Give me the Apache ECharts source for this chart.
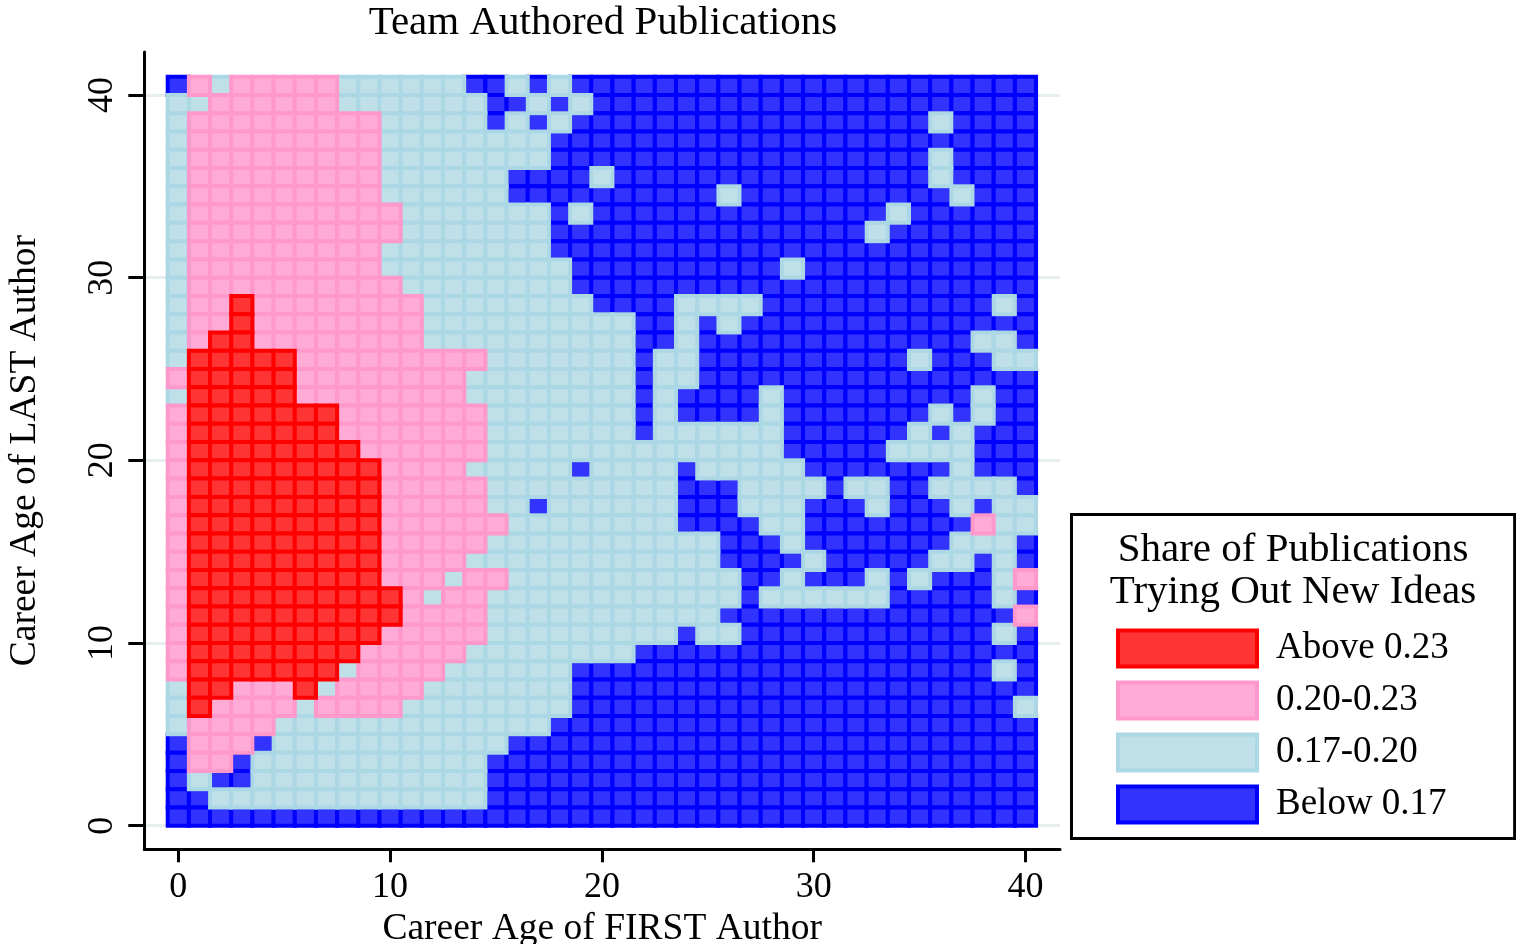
<!DOCTYPE html>
<html>
<head>
<meta charset="utf-8">
<script src="https://cdn.jsdelivr.net/npm/echarts@6/dist/echarts.min.js"></script>
<style>
html,body{margin:0;padding:0;background:#ffffff;}
#c{width:1516px;height:944px;}
</style>
</head>
<body>
<div id="c"></div>
<script>
// Career age of FIRST author (columns) and LAST author (rows, listed top to bottom)
const firstAuthorAges = [0,1,2,3,4,5,6,7,8,9,10,11,12,13,14,15,16,17,18,19,20,21,22,23,24,25,26,27,28,29,30,31,32,33,34,35,36,37,38,39,40];
const lastAuthorAges = [40,39,38,37,36,35,34,33,32,31,30,29,28,27,26,25,24,23,22,21,20,19,18,17,16,15,14,13,12,11,10,9,8,7,6,5,4,3,2,1,0];
const xTickValues = [0,10,20,30,40];
const yTickValues = [0,10,20,30,40];

// Share classes: 0 = Below 0.17, 1 = 0.17-0.20, 2 = 0.20-0.23, 3 = Above 0.23
const classNames = ['Below 0.17','0.17-0.20','0.20-0.23','Above 0.23'];
const classFill = ['#3333ff','#bfe0e8','#ffabd5','#ff3434'];
const classBorder = ['#0000ff','#acd7e4','#ff99cb','#ff0000'];
const legendOrder = ['Above 0.23','0.20-0.23','0.17-0.20','Below 0.17'];

// One string per LAST-author age (40 at top), one digit per FIRST-author age 0..40
const shareClassRows = [
  '0212222211 1111001010 0000000000 0000000000 0', // 40
  '1122222211 1111100101 0000000000 0000000000 0', // 39
  '1222222222 1111101010 0000000000 0000001000 0', // 38
  '1222222222 1111111100 0000000000 0000000000 0', // 37
  '1222222222 1111111100 0000000000 0000001000 0', // 36
  '1222222222 1111110000 1000000000 0000001000 0', // 35
  '1222222222 1111110000 0000001000 0000000100 0', // 34
  '1222222222 2111111101 0000000000 0000100000 0', // 33
  '1222222222 2111111100 0000000000 0001000000 0', // 32
  '1222222222 1111111100 0000000000 0000000000 0', // 31
  '1222222222 1111111110 0000000001 0000000000 0', // 30
  '1222222222 2111111110 0000000000 0000000000 0', // 29
  '1223222222 2211111111 0000111100 0000000001 0', // 28
  '1223222222 2211111111 1100101000 0000000000 0', // 27
  '1233222222 2211111111 1100100000 0000000011 0', // 26
  '1333332222 2222211111 1101100000 0000010001 1', // 25
  '2333332222 2222111111 1101100000 0000000000 0', // 24
  '1333332222 2222111111 1101000010 0000000010 0', // 23
  '2333333322 2222211111 1101000010 0000001010 0', // 22
  '2333333322 2222211111 1101111110 0000010100 0', // 21
  '2333333332 2222211111 1111111110 0000111100 0', // 20
  '2333333333 2222111110 1111011111 0000000100 0', // 19
  '2333333333 2222211111 1111000111 1011001111 0', // 18
  '2333333333 2222211011 1111000111 0001000101 1', // 17
  '2333333333 2222221111 1111000011 0000000021 1', // 16
  '2333333333 2222211111 1111110001 0000000111 0', // 15
  '2333333333 2222111111 1111110000 1000001101 0', // 14
  '2333333333 2221221111 1111111001 0001010001 2', // 13
  '2333333333 3212211111 1111111011 1111000001 0', // 12
  '2333333333 3222211111 1111110000 0000000000 2', // 11
  '2333333333 2222211111 1111011000 0000000001 0', // 10
  '2333333332 2222111111 1100000000 0000000000 0', // 9
  '2333333312 2221111110 0000000000 0000000001 0', // 8
  '1332223122 2211111110 0000000000 0000000000 0', // 7
  '1322221222 2111111110 0000000000 0000000000 1', // 6
  '1222211111 1111111100 0000000000 0000000000 0', // 5
  '0222011111 1111110000 0000000000 0000000000 0', // 4
  '0220111111 1111100000 0000000000 0000000000 0', // 3
  '0100111111 1111100000 0000000000 0000000000 0', // 2
  '0011111111 1111100000 0000000000 0000000000 0', // 1
  '0000000000 0000000000 0000000000 0000000000 0'  // 0
];

const FONT = 'Liberation Serif';

const cellsByClass = [[],[],[],[]];
shareClassRows.forEach(function (rowStr, ri) {
  const codes = rowStr.replace(/\s+/g, '');
  for (let ci = 0; ci < codes.length && ci < firstAuthorAges.length; ci++) {
    const k = parseInt(codes[ci], 10);
    cellsByClass[k].push([firstAuthorAges[ci], lastAuthorAges[ri]]);
  }
});

function makeRenderer(k) {
  return function (params, api) {
    const x = api.value(0), y = api.value(1);
    const a = api.coord([x - 0.5, y + 1]);
    const b = api.coord([x + 0.5, y]);
    return {
      type: 'rect',
      shape: { x: a[0], y: a[1], width: b[0] - a[0], height: b[1] - a[1] },
      style: { fill: classFill[k], stroke: classBorder[k], lineWidth: 4 }
    };
  };
}

const series = [0, 1, 2, 3].map(function (k) {
  return {
    type: 'custom',
    name: classNames[k],
    renderItem: makeRenderer(k),
    data: cellsByClass[k],
    encode: { x: 0, y: 1 },
    itemStyle: { color: classFill[k], borderColor: classBorder[k], borderWidth: 4 },
    z: 3,
    animation: false,
    silent: true
  };
});

const option = {
  backgroundColor: '#ffffff',
  animation: false,
  title: [
    {
      text: 'Team Authored Publications',
      left: 603,
      top: 3,
      padding: 0,
      textAlign: 'center',
      textStyle: { fontFamily: FONT, fontSize: 41, fontWeight: 'normal', color: '#000' }
    },
    {
      text: 'Share of Publications\nTrying Out New Ideas',
      left: 1293,
      top: 529,
      padding: 0,
      textAlign: 'center',
      textStyle: { fontFamily: FONT, fontSize: 41, lineHeight: 42, fontWeight: 'normal', color: '#000' }
    }
  ],
  grid: { left: 144.3, right: 456, top: 52, bottom: 94.7, containLabel: false, outerBoundsMode: 'none' },
  xAxis: {
    type: 'value',
    min: -1.605,
    max: 41.63,
    name: 'Career Age of FIRST Author',
    nameLocation: 'middle',
    nameGap: 55,
    nameTextStyle: { fontFamily: FONT, fontSize: 37.5, color: '#000' },
    axisLine: { show: true, onZero: false, lineStyle: { color: '#000', width: 3 } },
    axisTick: { show: true, customValues: xTickValues, length: 13, lineStyle: { color: '#000', width: 3 } },
    axisLabel: { show: true, customValues: xTickValues, margin: 20, fontFamily: FONT, fontSize: 36, color: '#000' },
    splitLine: { show: false }
  },
  yAxis: {
    type: 'value',
    min: -1.292,
    max: 42.354,
    name: 'Career Age of LAST Author',
    nameLocation: 'middle',
    nameGap: 100,
    nameRotate: 90,
    nameTextStyle: { fontFamily: FONT, fontSize: 37.5, color: '#000' },
    axisLine: { show: true, onZero: false, lineStyle: { color: '#000', width: 3 } },
    axisTick: { show: true, customValues: yTickValues, length: 16, lineStyle: { color: '#000', width: 3 } },
    axisLabel: { show: true, customValues: yTickValues, rotate: 90, margin: 24, fontFamily: FONT, fontSize: 36, color: '#000' },
    splitLine: { show: true, lineStyle: { color: '#e6eef0', width: 3 } }
  },
  legend: {
    orient: 'vertical',
    left: 1071.5,
    top: 514.5,
    padding: [114, 66, 14, 44.5],
    borderColor: '#000',
    borderWidth: 3,
    backgroundColor: '#fff',
    itemWidth: 139,
    itemHeight: 36,
    itemGap: 12,
    icon: 'rect',
    selectedMode: false,
    textStyle: { fontFamily: FONT, fontSize: 37, lineHeight: 36, color: '#000', padding: [0, 0, 0, 14] },
    data: legendOrder.map(function (n) {
      const k = classNames.indexOf(n);
      return { name: n, icon: 'rect', itemStyle: { color: classFill[k], borderColor: classBorder[k], borderWidth: 4 } };
    })
  },
  series: series
};

const chart = echarts.init(document.getElementById('c'), null, { renderer: 'canvas' });
chart.setOption(option);
</script>
</body>
</html>
